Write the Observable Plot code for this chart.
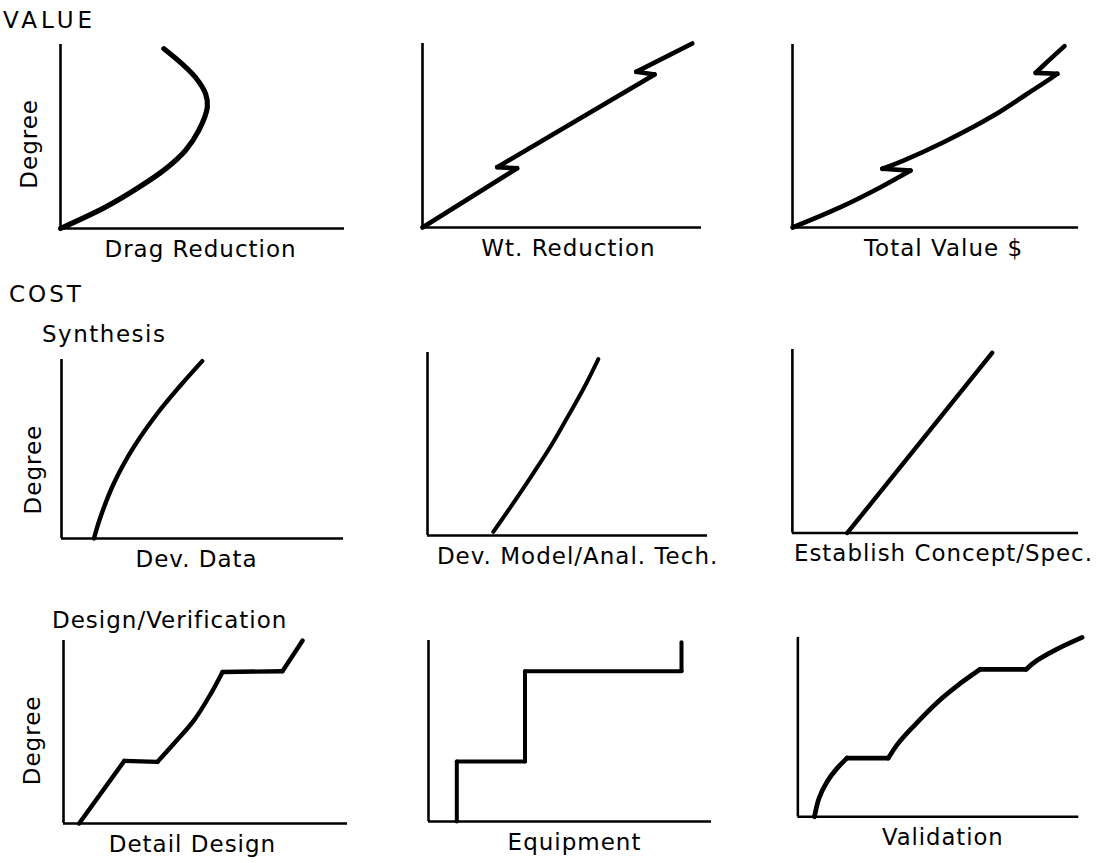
<!DOCTYPE html>
<html><head><meta charset="utf-8">
<script src="https://cdn.jsdelivr.net/npm/d3@7"></script>
<script src="https://cdn.jsdelivr.net/npm/@observablehq/plot@0.6"></script>
<style>
body{margin:0;background:#fff;}
#root{position:relative;width:1100px;height:863px;overflow:hidden;font-family:"DejaVu Sans",sans-serif;color:#000;background:#fff;}
.title{position:absolute;font-size:23px;line-height:1;white-space:nowrap;letter-spacing:1px;}
.panel{position:absolute;}
</style></head><body><div id="root"></div>
<script>
// ---- section titles ----
const sectionTitles = ["VALUE", "COST", "Synthesis", "Design/Verification"];

// ---- axis labels ----
const xLabels = ["Drag Reduction", "Wt. Reduction", "Total Value $",
  "Dev. Data", "Dev. Model/Anal. Tech.", "Establish Concept/Spec.",
  "Detail Design", "Equipment", "Validation"];
const yLabel = "Degree";

// ---- curves (x: % of axis length, y: % of axis height) ----
const dragX = [0, 15.8, 27.6, 37.0, 44.0, 48.7, 51.7, 51.1, 47.5, 42.8, 36.4];
const dragY = [0, 11.6, 22.4, 32.4, 42.4, 53.3, 65.9, 73.2, 82.2, 89.5, 97.7];

const wtX = [0, 33.9, 26.8, 83.2, 76.6, 96.7];
const wtY = [0, 32.2, 32.8, 83.2, 84.6, 100];

const totalX = [0, 16.8, 30.8, 41.3, 31.4, 38.8, 52.8, 70.3, 82.1, 90.2, 92.6, 85.0, 88.1, 95.1];
const totalY = [0, 11.1, 22.0, 31.1, 32.1, 36.6, 46.6, 61.2, 73.1, 81.3, 84.0, 84.5, 89.1, 99.1];

const devDataX = [11.5, 13.8, 18.5, 25.6, 33.9, 42.2, 49.9];
const devDataY = [0, 11.9, 30.6, 51.0, 69.7, 85.5, 99.1];

const devModelX = [23.5, 31, 38, 44.5, 50.5, 56, 61];
const devModelY = [2, 18.5, 34.5, 50, 66, 81, 96.4];

const conceptX = [19.2, 69.8];
const conceptY = [0, 98.2];

const detailX = [5.5, 21.4, 33.1, 38.9, 46.0, 51.9, 56.0, 77.1, 84.2];
const detailY = [0, 34.2, 33.7, 43.7, 56.5, 71.0, 82.8, 83.2, 100];

const equipX = [10, 10, 34.1, 34.1, 89.4, 89.4];
const equipY = [0, 33.2, 33.2, 83, 83, 99];

const validX = [5.9, 7.6, 10.5, 14.0, 17.5, 32.2, 35.7, 41.5, 49.7, 56.7, 64.9, 81.3, 84.8, 91.9, 101.2];
const validY = [0, 10.6, 19.8, 27.1, 32.7, 32.7, 40.9, 51.0, 63.9, 73.0, 82.2, 82.2, 86.8, 93.2, 100];

// ---- layout (pixel origin of axes, axis lengths, sharp-corner indices) ----
const layout = [
  {ox: 60, oy: 228, w: 284, h: 184, lx: 49.3, sw: 5.2, breaks: [], deg: 46, degDx: -31},
  {ox: 422, oy: 227, w: 279, h: 184, lx: 52.3, sw: 4.6, breaks: [1, 2, 3, 4]},
  {ox: 792, oy: 227, w: 286, h: 183, lx: 52.8, sw: 4.6, breaks: [3, 4, 10, 11]},
  {ox: 61, oy: 538, w: 282, h: 179, lx: 47.9, sw: 4.4, breaks: [], deg: 38.5, degDx: -27.5},
  {ox: 427, oy: 535, w: 280, h: 183, lx: 53.6, sw: 4, breaks: []},
  {ox: 792, oy: 533, w: 287, h: 184, lx: 52.8, sw: 4.4, breaks: []},
  {ox: 63, oy: 823, w: 284, h: 183, lx: 45.4, sw: 4.4, breaks: [1, 2, 6, 7], deg: 45.4, degDx: -30.5},
  {ox: 428, oy: 821, w: 283, h: 181, lx: 51.6, sw: 4, breaks: [1, 2, 3, 4]},
  {ox: 798, oy: 819, w: 285, h: 182, lx: 51.6, sw: 4.8, breaks: [4, 5, 10, 11]}
];
const series = [[dragX, dragY], [wtX, wtY], [totalX, totalY], [devDataX, devDataY],
  [devModelX, devModelY], [conceptX, conceptY], [detailX, detailY], [equipX, equipY], [validX, validY]];

const root = document.getElementById("root");
const titlePos = [{left: 3, top: 8.5, ls: 4}, {left: 9, top: 282.5, ls: 3}, {left: 42, top: 322.5, ls: 1.5}, {left: 52, top: 608.5, ls: 1}];
sectionTitles.forEach((t, i) => {
  const d = document.createElement("div");
  d.className = "title";
  d.textContent = t;
  d.style.left = titlePos[i].left + "px";
  d.style.top = titlePos[i].top + "px";
  d.style.letterSpacing = titlePos[i].ls + "px";
  root.appendChild(d);
});

const mL = 45, mR = 22, mT = 8, mB = 40;
layout.forEach((L, i) => {
  const [xs, ys] = series[i];
  // split into smooth pieces joined at sharp corners
  const rows = [];
  let seg = 0;
  xs.forEach((x, j) => {
    rows.push({x, y: ys[j], seg});
    if (L.breaks.includes(j)) { seg++; rows.push({x, y: ys[j], seg}); }
  });
  const marks = [
    Plot.ruleY([0], {x1: 0, x2: 100, strokeWidth: 2.6, stroke: "#000"}),
    Plot.ruleX([0], {y1: 0, y2: 100, strokeWidth: 2.6, stroke: "#000"}),
    Plot.line(rows, {x: "x", y: "y", z: "seg", curve: "catmull-rom", stroke: "#000", strokeWidth: L.sw,
      strokeLinecap: "round", strokeLinejoin: "round"}),
    Plot.text([xLabels[i]], {x: L.lx, y: 0, text: d => d, dy: 12, lineAnchor: "top",
      fontSize: 23, fill: "#000"})
  ];
  if (L.deg !== undefined) {
    marks.push(Plot.text([yLabel], {x: 0, y: L.deg, text: d => d, rotate: -90, dx: L.degDx,
      lineAnchor: "middle", fontSize: 23, fill: "#000"}));
  }
  const svg = Plot.plot({
    width: L.w + mL + mR,
    height: L.h + mT + mB,
    marginLeft: mL, marginRight: mR, marginTop: mT, marginBottom: mB,
    x: {domain: [0, 100], axis: null},
    y: {domain: [0, 100], axis: null},
    style: {background: "transparent", fontFamily: "DejaVu Sans", letterSpacing: "1px", overflow: "visible"},
    marks
  });
  const div = document.createElement("div");
  div.className = "panel";
  div.style.left = (L.ox - mL) + "px";
  div.style.top = (L.oy - L.h - mT) + "px";
  div.appendChild(svg);
  root.appendChild(div);
});
</script>
</body></html>
